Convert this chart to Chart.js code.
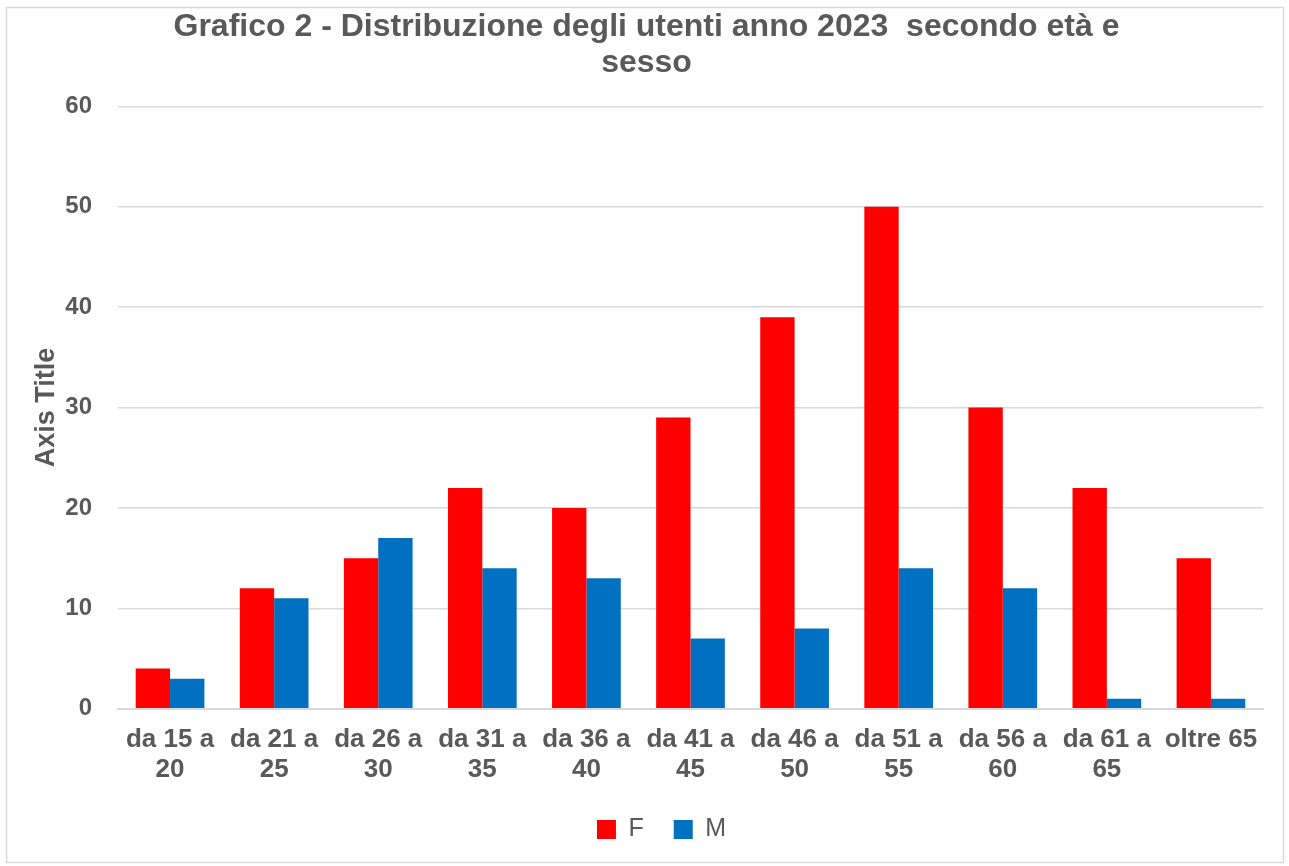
<!DOCTYPE html>
<html>
<head>
<meta charset="utf-8">
<script src="https://cdn.jsdelivr.net/npm/chart.js@4/dist/chart.umd.min.js"></script>
<style>
html,body{margin:0;padding:0;background:#fff;}
#wrap{position:relative;width:1289px;height:866px;}
</style>
</head>
<body>
<div id="wrap"><canvas id="c" width="1289" height="866"></canvas></div>
<script>
const categories = [["da 15 a","20"],["da 21 a","25"],["da 26 a","30"],["da 31 a","35"],["da 36 a","40"],["da 41 a","45"],["da 46 a","50"],["da 51 a","55"],["da 56 a","60"],["da 61 a","65"],["oltre 65"]];
const valuesF = [4,12,15,22,20,29,39,50,30,22,15];
const valuesM = [3,11,17,14,13,7,8,14,12,1,1];
const titleLines = ["Grafico 2 - Distribuzione degli utenti anno 2023  secondo età e","sesso"];
const yTitle = "Axis Title";

const textGray = '#595959';
const FONT = 'Liberation Sans, Arial, sans-serif';
const borderPlugin = {
  id:'borderPlugin',
  beforeDraw(chart){
    const ctx = chart.ctx;
    ctx.save();
    ctx.fillStyle='#fff';
    ctx.fillRect(0,0,chart.width,chart.height);
    ctx.strokeStyle='#d9d9d9';
    ctx.lineWidth=1.5;
    ctx.strokeRect(6.5,7.5,1277,855);
    ctx.restore();
  },
  afterLayout(chart){
    if (chart.legend){ chart.legend.left += 15; chart.legend.right += 15; }
  }
};
new Chart(document.getElementById('c'),{
  type:'bar',
  data:{
    labels:categories,
    datasets:[
      {label:'F',data:valuesF,backgroundColor:'#FF0000',categoryPercentage:0.66,barPercentage:1.0},
      {label:'M',data:valuesM,backgroundColor:'#0070C0',categoryPercentage:0.66,barPercentage:1.0}
    ]
  },
  options:{
    responsive:false,
    animation:false,
    layout:{padding:{left:30,right:26,top:8,bottom:14}},
    plugins:{
      title:{display:true,text:titleLines,color:textGray,font:{family:FONT,size:32,weight:'bold',lineHeight:1.1},padding:{top:2,bottom:26}},
      legend:{position:'bottom',labels:{color:textGray,font:{family:FONT,size:25},boxWidth:19,boxHeight:19,padding:30}},
      tooltip:{enabled:false}
    },
    scales:{
      x:{
        afterFit(scale){ scale.height = scale.height - 14; },
        grid:{display:false,drawTicks:false},
        border:{display:true,color:'#d9d9d9',width:2},
        ticks:{color:textGray,font:{family:FONT,size:26,weight:'bold',lineHeight:1.12},maxRotation:0,autoSkip:false,padding:17}
      },
      y:{
        min:0,max:60,
        afterFit(scale){ scale.width = 88; },
        grid:{color:'#d9d9d9',lineWidth:1.5,drawTicks:false},
        border:{display:false},
        ticks:{stepSize:10,color:textGray,font:{family:FONT,size:24,weight:'bold'},padding:26},
        title:{display:true,text:yTitle,color:textGray,font:{family:FONT,size:27,weight:'bold'},padding:{top:0,bottom:0}}
      }
    }
  },
  plugins:[borderPlugin]
});
</script>
</body>
</html>
